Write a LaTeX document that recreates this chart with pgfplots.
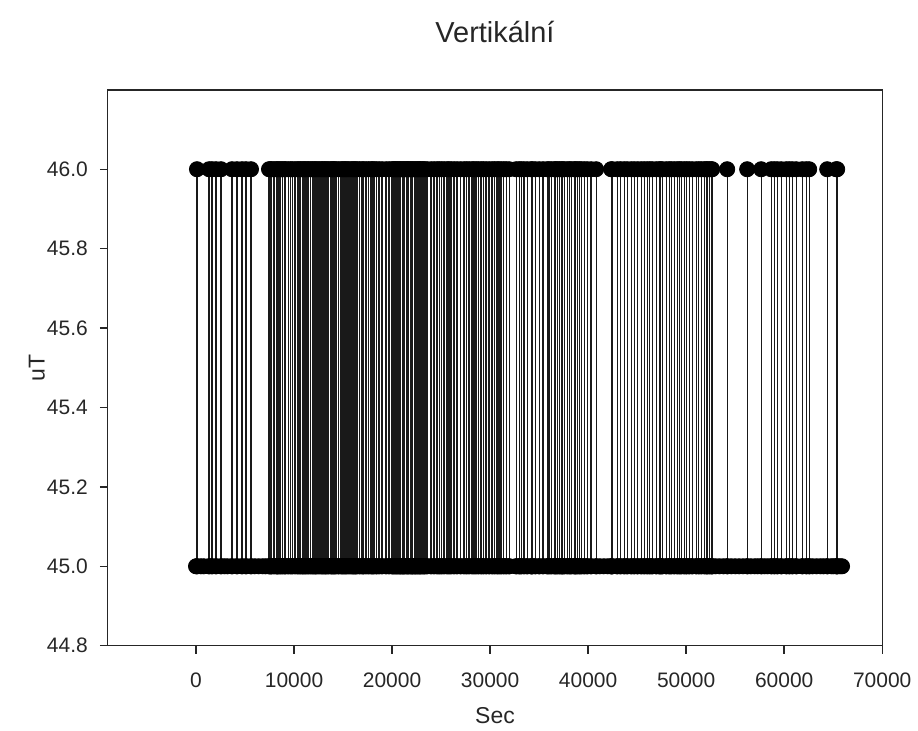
\documentclass[border=0pt]{standalone}
\usepackage{pgfplots}
\pgfplotsset{compat=1.18}
\usepackage{fontspec}
\setmainfont{Liberation Sans}
\begin{document}
\begin{tikzpicture}
\begin{axis}[
  scale only axis,
  width=388pt, height=278.5pt,
  xmin=-9000, xmax=70000,
  ymin=44.8, ymax=46.2,
  xtick={0,10000,20000,30000,40000,50000,60000,70000},
  ytick={44.8,45.0,45.2,45.4,45.6,45.8,46.0},
  scaled x ticks=false,
  xticklabel style={/pgf/number format/1000 sep={}, yshift=-6pt},
  yticklabel style={/pgf/number format/fixed,/pgf/number format/fixed zerofill,/pgf/number format/precision=1, xshift=-2.5pt},
  /pgf/number format/assume math mode=true,
  tick align=outside,
  xtick pos=bottom, ytick pos=left,
  major tick length=4pt,
  tick style={black!85, line width=0.7pt},
  axis line style={black!85, line width=0.7pt},
  ticklabel style={font=\fontsize{10.5pt}{12pt}\selectfont, text=black!85},
  clip=false,
]
\addplot[black!90, line width=0.6pt, mark=*, mark size=3.8pt, mark options={fill=black, draw=black, line width=0.4pt}] coordinates {
(0,45)(100,45)(100,46)(100,45)(500,45)(800,45)(1330,45)(1330,46)(1330,45)(1630,45)(1630,46)(1630,45)(2040,45)(2040,46)(2040,45)(2550,45)(2550,46)(2550,45)(2900,45)(3200,45)(3670,45)(3670,46)(3670,45)(4180,45)(4180,46)(4180,45)(4690,45)(4690,46)(4690,45)(5100,45)(5100,46)(5100,45)(5610,45)(5610,46)(5610,45)(6000,45)(6400,45)(6800,45)(7100,45)
(7449,45)(7449,46)(7449,45)(7600,45)(7600,46)(7600,45)(7725,45)(7725,46)(7725,45)(7959,45)(7959,46)(7959,45)(8194,45)(8194,46)(8194,45)(8300,45)(8300,46)(8300,45)(8469,45)(8469,46)(8469,45)(8650,45)(8650,46)(8650,45)(8806,45)(8806,46)(8806,45)(9000,45)(9000,46)(9000,45)(9153,45)(9153,46)(9153,45)(9400,45)(9400,46)(9400,45)(9663,45)(9663,46)(9663,45)(9826,45)(9826,46)(9826,45)
(10102,45)(10102,46)(10102,45)(10337,45)(10337,46)(10337,45)(10500,45)(10500,46)(10500,45)(10684,45)(10684,46)(10684,45)(10850,45)(10850,46)(10850,45)(11020,45)(11020,46)(11020,45)(11150,45)(11150,46)(11150,45)(11327,45)(11327,46)(11327,45)(11500,45)(11500,46)(11500,45)(11700,45)(11700,46)(11700,45)(11880,45)(11880,46)(11880,45)(12041,45)(12041,46)(12041,45)(12200,45)(12200,46)(12200,45)(12347,45)(12347,46)(12347,45)(12550,45)(12550,46)(12550,45)(12755,45)(12755,46)(12755,45)(12900,45)(12900,46)(12900,45)
(13061,45)(13061,46)(13061,45)(13200,45)(13200,46)(13200,45)(13367,45)(13367,46)(13367,45)(13550,45)(13550,46)(13550,45)(13775,45)(13775,46)(13775,45)(13878,45)(13878,46)(13878,45)(14000,45)(14000,46)(14000,45)(14150,45)(14150,46)(14150,45)(14286,45)(14286,46)(14286,45)(14550,45)(14550,46)(14550,45)(14796,45)(14796,46)(14796,45)(14950,45)(14950,46)(14950,45)(15102,45)(15102,46)(15102,45)(15250,45)(15250,46)(15250,45)(15408,45)(15408,46)(15408,45)(15600,45)(15600,46)(15600,45)
(15816,45)(15816,46)(15816,45)(16000,45)(16000,46)(16000,45)(16122,45)(16122,46)(16122,45)(16280,45)(16280,46)(16280,45)(16429,45)(16429,46)(16429,45)(16700,45)(16700,46)(16700,45)(16939,45)(16939,46)(16939,45)(17100,45)(17100,46)(17100,45)(17347,45)(17347,46)(17347,45)(17600,45)(17600,46)(17600,45)(17857,45)(17857,46)(17857,45)(18000,45)(18000,46)(18000,45)(18163,45)(18163,46)(18163,45)(18400,45)(18400,46)(18400,45)
(18673,45)(18673,46)(18673,45)(18980,45)(18980,46)(18980,45)(19388,45)(19388,46)(19388,45)(19694,45)(19694,46)(19694,45)(20000,45)(20000,46)(20000,45)
(20100,45)(20100,46)(20100,45)(20250,45)(20250,46)(20250,45)(20400,45)(20400,46)(20400,45)(20500,45)(20500,46)(20500,45)(20650,45)(20650,46)(20650,45)(20800,45)(20800,46)(20800,45)(20900,45)(20900,46)(20900,45)(21050,45)(21050,46)(21050,45)(21200,45)(21200,46)(21200,45)(21300,45)(21300,46)(21300,45)(21450,45)(21450,46)(21450,45)(21600,45)(21600,46)(21600,45)
(21700,45)(21700,46)(21700,45)(21850,45)(21850,46)(21850,45)(22000,45)(22000,46)(22000,45)(22100,45)(22100,46)(22100,45)(22250,45)(22250,46)(22250,45)(22400,45)(22400,46)(22400,45)(22551,45)(22551,46)(22551,45)(22650,45)(22650,46)(22650,45)(22800,45)(22800,46)(22800,45)(22900,45)(22900,46)(22900,45)(23061,45)(23061,46)(23061,45)(23200,45)(23200,46)(23200,45)(23350,45)(23350,46)(23350,45)
(23571,45)(23571,46)(23571,45)(23980,45)(23980,46)(23980,45)(24286,45)(24286,46)(24286,45)(24592,45)(24592,46)(24592,45)(24800,45)(24800,46)(24800,45)(25050,45)(25050,46)(25050,45)(25306,45)(25306,46)(25306,45)(25612,45)(25612,46)(25612,45)(25800,45)(25800,46)(25800,45)(26020,45)(26020,46)(26020,45)(26327,45)(26327,46)(26327,45)(26633,45)(26633,46)(26633,45)(27000,45)(27000,46)(27000,45)(27347,45)(27347,46)(27347,45)(27600,45)(27600,46)(27600,45)(27857,45)(27857,46)(27857,45)
(28163,45)(28163,46)(28163,45)(28350,45)(28350,46)(28350,45)(28571,45)(28571,46)(28571,45)(28800,45)(28800,46)(28800,45)(29082,45)(29082,46)(29082,45)(29300,45)(29300,46)(29300,45)(29592,45)(29592,46)(29592,45)(29898,45)(29898,46)(29898,45)(30204,45)(30204,46)(30204,45)(30450,45)(30450,46)(30450,45)(30714,45)(30714,46)(30714,45)(30900,45)(30900,46)(30900,45)(31122,45)(31122,46)(31122,45)(31400,45)(31400,46)(31400,45)(31633,45)(31633,46)(31633,45)(31939,45)(31939,46)(31939,45)
(32653,45)(32653,46)(32653,45)(32959,45)(32959,46)(32959,45)(33163,45)(33163,46)(33163,45)(33450,45)(33450,46)(33450,45)(33776,45)(33776,46)(33776,45)(34184,45)(34184,46)(34184,45)(34286,45)(34286,46)(34286,45)(34600,45)(34600,46)(34600,45)(35000,45)(35000,46)(35000,45)(35400,45)(35400,46)(35400,45)(35816,45)(35816,46)(35816,45)(36000,45)(36000,46)(36000,45)(36224,45)(36224,46)(36224,45)
(36531,45)(36531,46)(36531,45)(36700,45)(36700,46)(36700,45)(36837,45)(36837,46)(36837,45)(37050,45)(37050,46)(37050,45)(37245,45)(37245,46)(37245,45)(37400,45)(37400,46)(37400,45)(37551,45)(37551,46)(37551,45)(37857,45)(37857,46)(37857,45)(38100,45)(38100,46)(38100,45)(38265,45)(38265,46)(38265,45)(38571,45)(38571,46)(38571,45)(38700,45)(38700,46)(38700,45)(38878,45)(38878,46)(38878,45)(39100,45)(39100,46)(39100,45)(39286,45)(39286,46)(39286,45)(39592,45)(39592,46)(39592,45)(39898,45)(39898,46)(39898,45)
(40300,45)(40300,46)(40300,45)(40816,45)(40816,46)(40816,45)(41200,45)(41600,45)(42000,45)
(42347,45)(42347,46)(42347,45)(42449,45)(42449,46)(42449,45)(42959,45)(42959,46)(42959,45)(43300,45)(43300,46)(43300,45)(43673,45)(43673,46)(43673,45)(43980,45)(43980,46)(43980,45)(44388,45)(44388,46)(44388,45)(44694,45)(44694,46)(44694,45)(45050,45)(45050,46)(45050,45)(45408,45)(45408,46)(45408,45)(45714,45)(45714,46)(45714,45)(46020,45)(46020,46)(46020,45)(46300,45)(46300,46)(46300,45)(46531,45)(46531,46)(46531,45)
(46939,45)(46939,46)(46939,45)(47245,45)(47245,46)(47245,45)(47400,45)(47400,46)(47400,45)(47551,45)(47551,46)(47551,45)(47959,45)(47959,46)(47959,45)(48265,45)(48265,46)(48265,45)(48469,45)(48469,46)(48469,45)(48776,45)(48776,46)(48776,45)(49082,45)(49082,46)(49082,45)(49300,45)(49300,46)(49300,45)(49490,45)(49490,46)(49490,45)(49796,45)(49796,46)(49796,45)
(50050,45)(50050,46)(50050,45)(50306,45)(50306,46)(50306,45)(50612,45)(50612,46)(50612,45)(51020,45)(51020,46)(51020,45)(51300,45)(51300,46)(51300,45)(51531,45)(51531,46)(51531,45)(51837,45)(51837,46)(51837,45)(52041,45)(52041,46)(52041,45)(52143,45)(52143,46)(52143,45)(52347,45)(52347,46)(52347,45)(52551,45)(52551,46)(52551,45)(52653,45)(52653,46)(52653,45)
(53000,45)(53400,45)(53800,45)(54184,45)(54184,46)(54184,45)(54600,45)(55000,45)(55400,45)(55800,45)(56224,45)(56224,46)(56224,45)(56600,45)(57000,45)(57300,45)(57653,45)(57653,46)(57653,45)(58000,45)(58300,45)
(58673,45)(58673,46)(58673,45)(58980,45)(58980,46)(58980,45)(59286,45)(59286,46)(59286,45)(59694,45)(59694,46)(59694,45)(60204,45)(60204,46)(60204,45)(60510,45)(60510,46)(60510,45)(60816,45)(60816,46)(60816,45)(61224,45)(61224,46)(61224,45)(61837,45)(61837,46)(61837,45)(62245,45)(62245,46)(62245,45)(62551,45)(62551,46)(62551,45)
(62900,45)(63300,45)(63700,45)(64000,45)(64388,45)(64388,46)(64388,45)(64800,45)(65000,45)(65306,45)(65306,46)(65306,45)(65408,45)(65408,46)(65408,45)(65700,45)(65900,45)
};
\node[font=\fontsize{14.5pt}{17pt}\selectfont, text=black!85] at ([yshift=29pt]rel axis cs:0.5,1) {Vertikální};
\node[font=\fontsize{11.5pt}{14pt}\selectfont, text=black!85] at ([yshift=-35pt]rel axis cs:0.5,0) {Sec};
\node[font=\fontsize{11.5pt}{14pt}\selectfont, text=black!85, rotate=90] at ([xshift=-35.5pt]rel axis cs:0,0.5) {uT};
\coordinate (SW) at (rel axis cs:0,0);
\coordinate (NE) at (rel axis cs:1,1);
\end{axis}
\path ([shift={(-54pt,-41.5pt)}]SW) rectangle ([shift={(17pt,45pt)}]NE);
\end{tikzpicture}
\end{document}
